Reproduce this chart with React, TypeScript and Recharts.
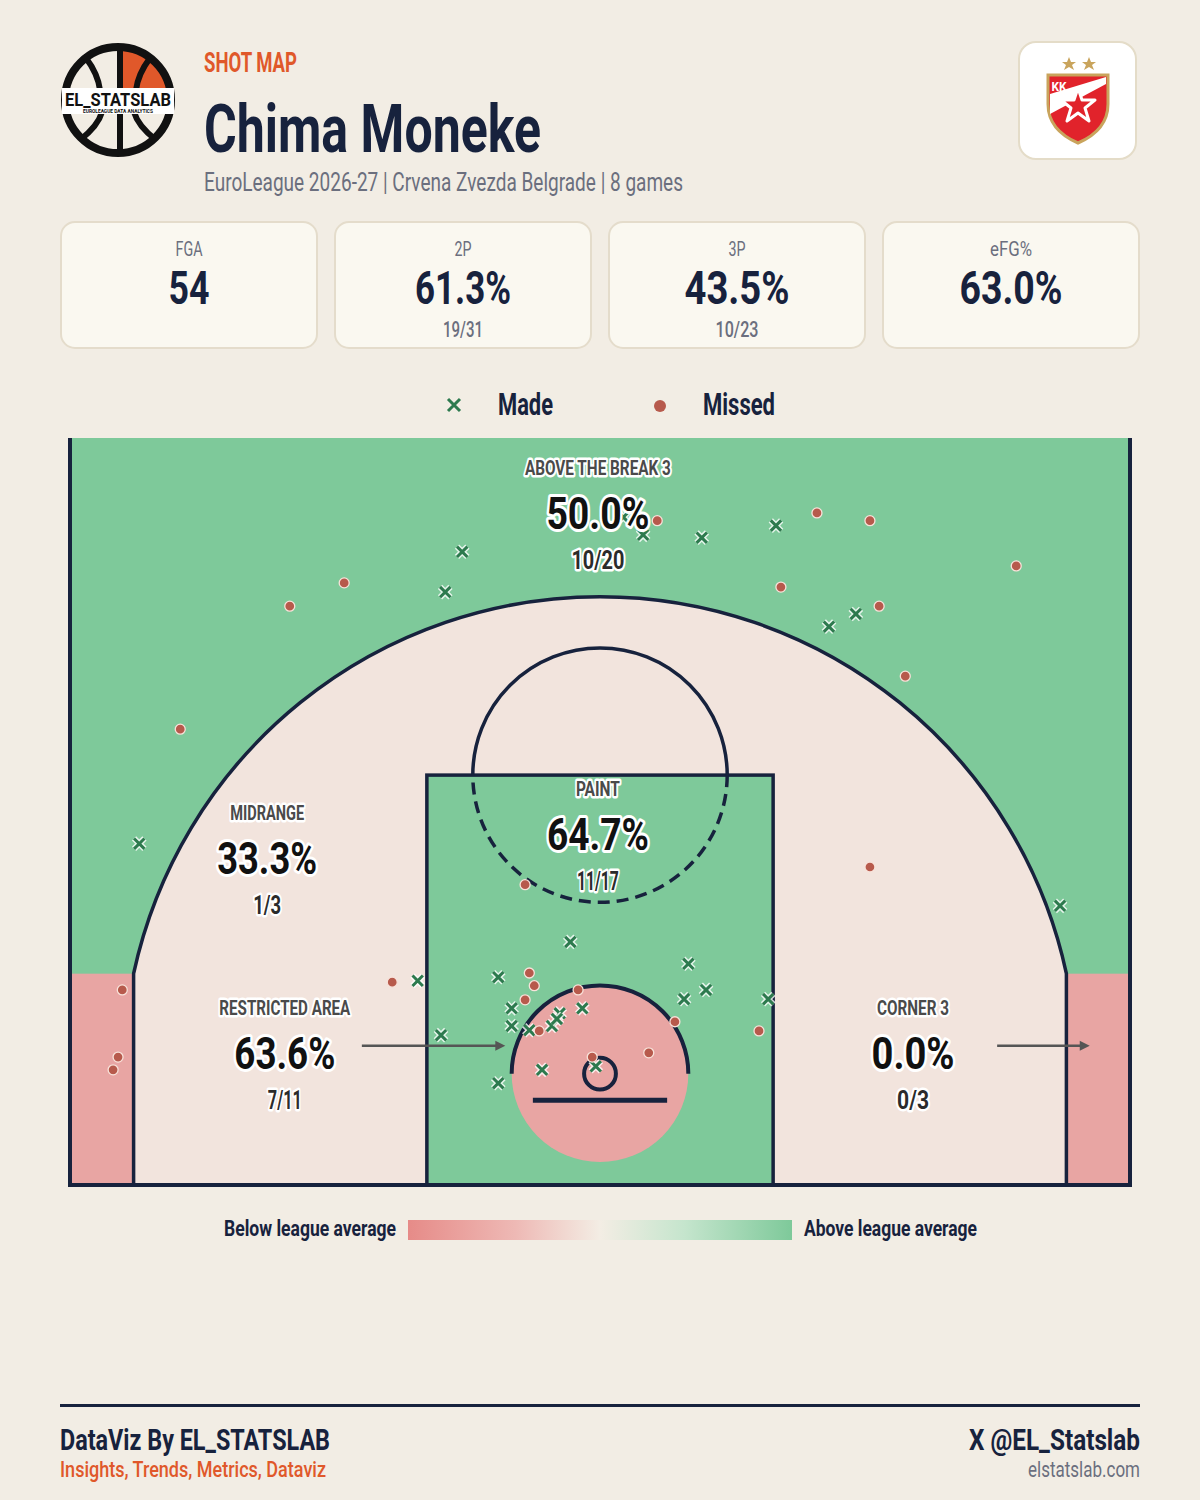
import React from 'react';
import {
  ScatterChart,
  Scatter,
  XAxis,
  YAxis,
  ReferenceArea,
  ReferenceDot,
  ReferenceLine,
} from 'recharts';

// shot locations in metres: x from court centre, y from baseline (FIBA half court)
const madeShots: [number, number][] = [
  [0.33, 9.45], [0.61, 9.2], [1.44, 9.16], [2.49, 9.33], [-1.95, 8.96],
  [-2.19, 8.39], [3.62, 8.08], [3.24, 7.9], [-6.52, 4.83], [6.51, 3.95],
  [-2.58, 2.89],
  [-0.42, 3.44], [-1.44, 2.94], [-1.25, 2.5], [-1.25, 2.25], [-1.44, 1.44],
  [-2.25, 2.12], [1.25, 3.13], [1.5, 2.76], [1.19, 2.63], [2.38, 2.63],
  [-1.0, 2.19], [-0.68, 2.25], [-0.57, 2.43], [-0.61, 2.35], [-0.25, 2.5],
  [-0.06, 1.68], [-0.82, 1.63],
];

const missedShots: [number, number][] = [
  [0.81, 9.4], [3.07, 9.51], [3.82, 9.4], [-3.62, 8.52], [-4.39, 8.19],
  [5.89, 8.76], [2.56, 8.46], [3.95, 8.19], [4.32, 7.2], [-5.94, 6.45],
  [-6.76, 2.76], [-6.82, 1.81], [-6.89, 1.63],
  [3.82, 4.5], [-2.94, 2.87],
  [-1.0, 3.0], [-0.93, 2.82], [-1.06, 2.62], [2.25, 2.18], [-1.06, 4.25], [1.06, 2.31],
  [-0.31, 2.76], [-0.86, 2.18], [-0.11, 1.81], [0.69, 1.87],
];

const zoneNames = ['ABOVE THE BREAK 3', 'PAINT', 'MIDRANGE', 'RESTRICTED AREA', 'CORNER 3'];
const zoneMade = [10, 11, 1, 7, 0];
const zoneAttempts = [20, 17, 3, 11, 3];
// where each zone's label sits on the court (metres)
const zoneAnchors: [number, number][] = [
  [-0.03, 9.51], [-0.03, 4.97], [-4.71, 4.63], [-4.46, 1.87], [4.43, 1.87],
];
// rendered text widths (px), the original uses a narrow face
const zoneTitleW = [146, 44, 74, 131, 72];
const zonePctW = [103, 102, 100, 101, 83];
const zoneFracW = [53, 42, 28, 34, 32];

const cardLabels = ['FGA', '2P', '3P', 'eFG%'];
const cardValues = ['54', '61.3%', '43.5%', '63.0%'];
const cardSubs = ['', '19/31', '10/23', ''];
const cardLabelW = [27, 17, 17, 42];
const cardValueW = [41, 96, 105, 103];
const cardSubW = [0, 40, 43, 0];

const FONT = "Roboto, 'Noto Sans', sans-serif";
const NAVY = '#17223d';
const BG = '#f2ede4';
const GREEN = '#7ec99a';
const PINK = '#e8a5a3';
const MID = '#f2e4dd';
const ORANGE = '#e0582a';
const GRAY = '#6b6f7e';

const COURT_W = 15;
const COURT_LEN = 10.57;
const HOOP_Y = 1.575;
const THREE_R = 6.75;
const CORNER_X = 6.6;
const CORNER_TOP = HOOP_Y + Math.sqrt(THREE_R * THREE_R - CORNER_X * CORNER_X);

const madeData = madeShots.map(([x, y]) => ({ x, y }));
const missedData = missedShots.map(([x, y]) => ({ x, y }));

const CText = ({ x, y, w, size, weight = 700, color = NAVY, anchor = 'start', children, extra }: any) => (
  <text
    x={x}
    y={y}
    fontFamily={FONT}
    fontSize={size}
    fontWeight={weight}
    fill={color}
    textAnchor={anchor}
    textLength={w || undefined}
    lengthAdjust="spacingAndGlyphs"
    {...extra}
  >
    {children}
  </text>
);

const Court = (props: any) => {
  const { x, y, width, height } = props;
  const kx = width / COURT_W;
  const ky = height / COURT_LEN;
  const sx = (m: number) => x + (m + COURT_W / 2) * kx;
  const sy = (m: number) => y + height - m * ky;
  const R = THREE_R * kx;
  const lw = 3.5;

  const arc = `M${sx(-CORNER_X)},${sy(0)} L${sx(-CORNER_X)},${sy(CORNER_TOP)} A${R},${R} 0 0 1 ${sx(CORNER_X)},${sy(CORNER_TOP)} L${sx(CORNER_X)},${sy(0)}`;
  const ftR = 1.8 * kx;
  const raR = 1.25 * kx;

  return (
    <g>
      <rect x={x} y={y} width={width} height={height} fill={GREEN} />
      <rect x={sx(-7.5)} y={sy(CORNER_TOP)} width={0.9 * kx} height={CORNER_TOP * ky} fill={PINK} />
      <rect x={sx(CORNER_X)} y={sy(CORNER_TOP)} width={0.9 * kx} height={CORNER_TOP * ky} fill={PINK} />
      <path d={arc + ' Z'} fill={MID} />
      <rect x={sx(-2.45)} y={sy(5.8)} width={4.9 * kx} height={5.8 * ky} fill={GREEN} />
      <circle cx={sx(0)} cy={sy(HOOP_Y)} r={raR} fill={PINK} />

      <path d={arc} fill="none" stroke={NAVY} strokeWidth={lw} />
      <rect x={sx(-2.45)} y={sy(5.8)} width={4.9 * kx} height={5.8 * ky} fill="none" stroke={NAVY} strokeWidth={lw} />
      <path d={`M${sx(-1.8)},${sy(5.8)} A${ftR},${ftR} 0 0 1 ${sx(1.8)},${sy(5.8)}`} fill="none" stroke={NAVY} strokeWidth={lw} />
      <path d={`M${sx(1.8)},${sy(5.8)} A${ftR},${ftR} 0 0 1 ${sx(-1.8)},${sy(5.8)}`} fill="none" stroke={NAVY} strokeWidth={lw} strokeDasharray="12 7" />
      <path d={`M${sx(-1.25)},${sy(HOOP_Y)} A${raR},${raR} 0 0 1 ${sx(1.25)},${sy(HOOP_Y)}`} fill="none" stroke={NAVY} strokeWidth={lw + 0.5} />
      <line x1={sx(-0.95)} y1={sy(1.2)} x2={sx(0.95)} y2={sy(1.2)} stroke={NAVY} strokeWidth={5} />
      <circle cx={sx(0)} cy={sy(HOOP_Y)} r={0.225 * kx} fill="none" stroke={NAVY} strokeWidth={4} />
      <path d={`M${x},${y} L${x},${y + height} L${x + width},${y + height} L${x + width},${y}`} fill="none" stroke={NAVY} strokeWidth={4} />
    </g>
  );
};

const MadeMark = (props: any) => {
  const { cx, cy } = props;
  const s = 5.2;
  const d = `M${cx - s},${cy - s}L${cx + s},${cy + s}M${cx - s},${cy + s}L${cx + s},${cy - s}`;
  return (
    <g>
      <path d={d} stroke="#ffffff" strokeOpacity={0.8} strokeWidth={6} />
      <path d={d} stroke="#2d7a4e" strokeWidth={3} />
    </g>
  );
};

const MissedMark = (props: any) => {
  const { cx, cy } = props;
  return <circle cx={cx} cy={cy} r={5} fill="#b75a4c" stroke="#f8e2da" strokeWidth={1.3} />;
};

const halo = { stroke: '#ffffff', strokeWidth: 5, paintOrder: 'stroke', strokeLinejoin: 'round' };

const zoneLabel = (i: number) => (props: any) => {
  const { cx, cy } = props;
  const pct = ((zoneMade[i] / zoneAttempts[i]) * 100).toFixed(1) + '%';
  return (
    <g>
      <CText x={cx} y={cy - 38} w={zoneTitleW[i]} size={21} color="#4a4a4a" anchor="middle" extra={halo}>
        {zoneNames[i]}
      </CText>
      <CText x={cx} y={cy + 16} w={zonePctW[i]} size={45} color="#111111" anchor="middle" extra={{ ...halo, strokeWidth: 6 }}>
        {pct}
      </CText>
      <CText x={cx} y={cy + 56} w={zoneFracW[i]} size={26} color="#2b2b2b" anchor="middle" extra={halo}>
        {zoneMade[i]}/{zoneAttempts[i]}
      </CText>
    </g>
  );
};

const Arrow = (props: any) => {
  const { x1, y1, x2, y2 } = props;
  return (
    <g>
      <line x1={x1} y1={y1} x2={x2 - 8} y2={y2} stroke="#555555" strokeWidth={2.5} />
      <polygon points={`${x2},${y2} ${x2 - 10},${y2 - 5} ${x2 - 10},${y2 + 5}`} fill="#555555" />
    </g>
  );
};

const Logo = () => (
  <g transform="translate(58,40)">
    <path d="M62,8 L62,50 L113,50 A54,54 0 0 0 62,8 Z" fill={ORANGE} />
    <circle cx={60} cy={60} r={53} fill="none" stroke="#111" strokeWidth={8} />
    <path d="M62,6 L62,50 M62,70 L62,114" stroke="#111" strokeWidth={6} />
    <path d="M28,18 Q40,34 42,50 M92,18 Q80,34 78,50" stroke="#111" strokeWidth={6} fill="none" />
    <path d="M22,100 Q40,86 44,72 M98,100 Q80,86 76,72" stroke="#111" strokeWidth={6} fill="none" />
    <rect x={4} y={48} width={112} height={26} fill="#ffffff" />
    <CText x={60} y={66} w={106} size={19} color="#111" anchor="middle">EL_STATSLAB</CText>
    <CText x={60} y={73} w={70} size={5} color="#111" anchor="middle">EUROLEAGUE DATA ANALYTICS</CText>
  </g>
);

const Badge = () => (
  <g transform="translate(1019,42)">
    <rect x={0} y={0} width={117} height={117} rx={17} fill="#ffffff" stroke="#e4dcc8" strokeWidth={2} />
    <polygon points="50,15 52,20 57,20 53,23 55,28 50,25 45,28 47,23 43,20 48,20" fill="#c9a45c" />
    <polygon points="70,15 72,20 77,20 73,23 75,28 70,25 65,28 67,23 63,20 68,20" fill="#c9a45c" />
    <path d="M29,33 L89,33 L89,62 Q89,88 59,101 Q29,88 29,62 Z" fill="#e1232b" stroke="#c9a45c" strokeWidth={3} />
    <path d="M31,52 L87,35 L87,42 L31,72 Z" fill="#ffffff" />
    <CText x={40} y={49} w={15} size={13} color="#ffffff" anchor="middle">KK</CText>
    <polygon
      points="59,46 63,58 76,58 66,66 70,79 59,71 48,79 52,66 42,58 55,58"
      fill="#e1232b" stroke="#ffffff" strokeWidth={3} strokeLinejoin="round"
    />
  </g>
);

export default function App() {
  return (
    <div style={{ position: 'absolute', left: 0, top: 0, width: 1200, height: 1500, background: BG, overflow: 'hidden' }}>
      <svg width={1200} height={1500} style={{ position: 'absolute', left: 0, top: 0 }}>
        <defs>
          <linearGradient id="avgScale" x1="0" x2="1" y1="0" y2="0">
            <stop offset="0%" stopColor="#e68b88" />
            <stop offset="28%" stopColor="#eeb9b5" />
            <stop offset="50%" stopColor="#f3ede4" />
            <stop offset="72%" stopColor="#c5e5cd" />
            <stop offset="100%" stopColor="#7ec99a" />
          </linearGradient>
        </defs>
        <Logo />
        <CText x={204} y={72} w={93} size={28} color={ORANGE}>SHOT MAP</CText>
        <CText x={204} y={152} w={337} size={66} color={NAVY}>Chima Moneke</CText>
        <CText x={204} y={191} w={479} size={25} weight={400} color={GRAY}>
          EuroLeague 2026-27 | Crvena Zvezda Belgrade | 8 games
        </CText>
        <Badge />

        {cardLabels.map((label, i) => {
          const left = 60 + i * 274;
          const mid = left + 129;
          return (
            <g key={label}>
              <rect x={left + 1} y={222} width={256} height={126} rx={14} fill="#faf8f0" stroke="#e4dccb" strokeWidth={2} />
              <CText x={mid} y={256} w={cardLabelW[i]} size={20} weight={400} color={GRAY} anchor="middle">{label}</CText>
              <CText x={mid} y={304} w={cardValueW[i]} size={47} color={NAVY} anchor="middle">{cardValues[i]}</CText>
              {cardSubs[i] && (
                <CText x={mid} y={337} w={cardSubW[i]} size={22} weight={500} color={GRAY} anchor="middle">{cardSubs[i]}</CText>
              )}
            </g>
          );
        })}

        <path d="M448,399L460,411M448,411L460,399" stroke="#2d7a4e" strokeWidth={3} />
        <CText x={498} y={415} w={55} size={32} color={NAVY}>Made</CText>
        <circle cx={660} cy={406} r={6} fill="#b75a4c" />
        <CText x={703} y={415} w={72} size={32} color={NAVY}>Missed</CText>

        <CText x={396} y={1236} w={172} size={22} color={NAVY} anchor="end">Below league average</CText>
        <rect x={408} y={1220} width={384} height={20} fill="url(#avgScale)" />
        <CText x={804} y={1236} w={173} size={22} color={NAVY}>Above league average</CText>

        <rect x={60} y={1404} width={1080} height={3} fill={NAVY} />
        <CText x={60} y={1450} w={270} size={30} color={NAVY}>DataViz By EL_STATSLAB</CText>
        <CText x={60} y={1477} w={266} size={22} weight={500} color={ORANGE}>Insights, Trends, Metrics, Dataviz</CText>
        <CText x={1140} y={1450} w={171} size={30} color={NAVY} anchor="end">X @EL_Statslab</CText>
        <CText x={1140} y={1477} w={112} size={22} weight={400} color={GRAY} anchor="end">elstatslab.com</CText>
      </svg>

      <div style={{ position: 'absolute', left: 0, top: 430 }}>
        <ScatterChart width={1200} height={765} margin={{ top: 8, right: 70, bottom: 10, left: 70 }}>
          <XAxis type="number" dataKey="x" domain={[-COURT_W / 2, COURT_W / 2]} hide allowDataOverflow />
          <YAxis type="number" dataKey="y" domain={[0, COURT_LEN]} hide allowDataOverflow />
          <ReferenceArea
            x1={-COURT_W / 2}
            x2={COURT_W / 2}
            y1={0}
            y2={COURT_LEN}
            shape={(p: any) => <Court {...p} />}
          />
          <Scatter name="Made" data={madeData} shape={MadeMark} isAnimationActive={false} />
          <Scatter name="Missed" data={missedData} shape={MissedMark} isAnimationActive={false} />
          <ReferenceLine segment={[{ x: -3.37, y: 1.97 }, { x: -1.34, y: 1.97 }]} shape={Arrow} />
          <ReferenceLine segment={[{ x: 5.62, y: 1.97 }, { x: 6.93, y: 1.97 }]} shape={Arrow} />
          {zoneNames.map((name, i) => (
            <ReferenceDot key={name} x={zoneAnchors[i][0]} y={zoneAnchors[i][1]} r={0} shape={zoneLabel(i)} />
          ))}
        </ScatterChart>
      </div>
    </div>
  );
}
